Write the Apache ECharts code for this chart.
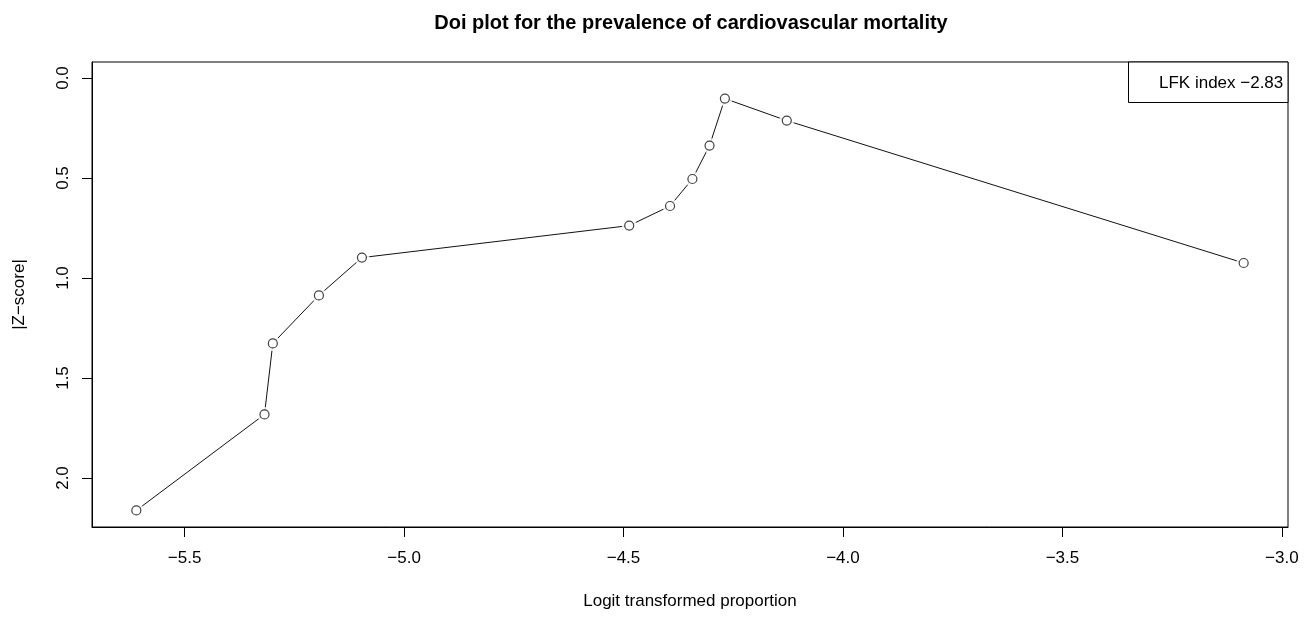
<!DOCTYPE html>
<html>
<head>
<meta charset="utf-8">
<title>Doi plot</title>
<script src="https://cdn.jsdelivr.net/npm/echarts@6/dist/echarts.min.js"></script>
<style>
  html, body { margin: 0; padding: 0; background: #fff; }
  #chart { width: 1314px; height: 617px; }
</style>
</head>
<body>
<div id="chart"></div>
<script>
// Logit transformed proportion of each study, ordered along the curve
const logitProportion = [-5.610, -5.318, -5.299, -5.194, -5.096, -4.487, -4.394, -4.343, -4.304, -4.269, -4.128, -3.087];
// Absolute Z-score of each study
const absZScore = [2.162, 1.682, 1.327, 1.087, 0.898, 0.738, 0.640, 0.505, 0.338, 0.103, 0.213, 0.925];

const xTicks = [-5.5, -5.0, -4.5, -4.0, -3.5, -3.0];
const yTicks = [0.0, 0.5, 1.0, 1.5, 2.0];

const titleText = 'Doi plot for the prevalence of cardiovascular mortality';
const xTitle = 'Logit transformed proportion';
const yTitle = '|Z\u2212score|';
const lfkText = 'LFK index \u22122.83';

const FONT = '"Liberation Sans", Arial, Helvetica, sans-serif';
const minusFmt = v => v.toFixed(1).replace('-', '\u2212');

const points = logitProportion.map((x, i) => [x, absZScore[i]]);

const GRID = { left: 92, right: 26, top: 62, bottom: 90 };

const chart = echarts.init(document.getElementById('chart'), null, { renderer: 'canvas' });

chart.setOption({
  backgroundColor: '#ffffff',
  animation: false,
  title: {
    text: titleText,
    left: 686,
    textAlign: 'center',
    top: 8,
    textStyle: { fontFamily: FONT, fontSize: 20, fontWeight: 'bold', color: '#000' }
  },
  grid: {
    left: GRID.left, right: GRID.right, top: GRID.top, bottom: GRID.bottom,
    show: true, borderColor: '#000', borderWidth: 1, backgroundColor: 'transparent'
  },
  xAxis: {
    type: 'value',
    min: -5.711, max: -2.986,
    name: xTitle,
    nameLocation: 'middle',
    nameGap: 66,
    nameTextStyle: { fontFamily: FONT, fontSize: 17, color: '#000' },
    axisLine: { show: true, onZero: false, lineStyle: { color: '#000', width: 1 } },
    axisTick: {
      show: true, length: 10, inside: false,
      customValues: xTicks,
      lineStyle: { color: '#000', width: 1 }
    },
    axisLabel: {
      customValues: xTicks,
      margin: 23,
      fontFamily: FONT, fontSize: 17, color: '#000',
      formatter: minusFmt
    },
    splitLine: { show: false }
  },
  yAxis: {
    type: 'value',
    inverse: true,
    min: -0.08, max: 2.245,
    name: yTitle,
    nameLocation: 'middle',
    nameGap: 64,
    nameRotate: 90,
    nameTextStyle: { fontFamily: FONT, fontSize: 17, color: '#000' },
    axisLine: { show: true, onZero: false, lineStyle: { color: '#000', width: 1 } },
    axisTick: {
      show: true, length: 10, inside: false,
      customValues: yTicks,
      lineStyle: { color: '#000', width: 1 }
    },
    axisLabel: {
      customValues: yTicks,
      rotate: 90,
      margin: 20,
      fontFamily: FONT, fontSize: 17, color: '#000',
      formatter: minusFmt
    },
    splitLine: { show: false }
  },
  graphic: [
    {
      type: 'rect',
      shape: { x: 1128.5, y: 62, width: 1288 - 1128.5, height: 40.5 },
      style: { fill: '#fff', stroke: '#000', lineWidth: 1 },
      z: 10
    },
    {
      type: 'text',
      x: 1159, y: 83,
      style: {
        text: lfkText, fontFamily: FONT, fontSize: 17, fill: '#000',
        textAlign: 'left', textVerticalAlign: 'middle'
      },
      z: 11
    }
  ],
  series: [
    {
      // connecting segments
      type: 'line',
      data: points,
      symbol: 'none',
      lineStyle: { color: '#111', width: 1 },
      silent: true,
      z: 2
    },
    {
      // white halo to leave small gaps between segments and circles
      type: 'scatter',
      data: points,
      symbol: 'circle',
      symbolSize: 15,
      itemStyle: { color: '#fff' },
      silent: true,
      z: 3
    },
    {
      // open circles for the studies
      type: 'scatter',
      data: points,
      symbol: 'circle',
      symbolSize: 9,
      itemStyle: { color: '#fff', borderColor: '#111', borderWidth: 1.2 },
      silent: true,
      z: 4
    }
  ]
});
</script>
</body>
</html>
